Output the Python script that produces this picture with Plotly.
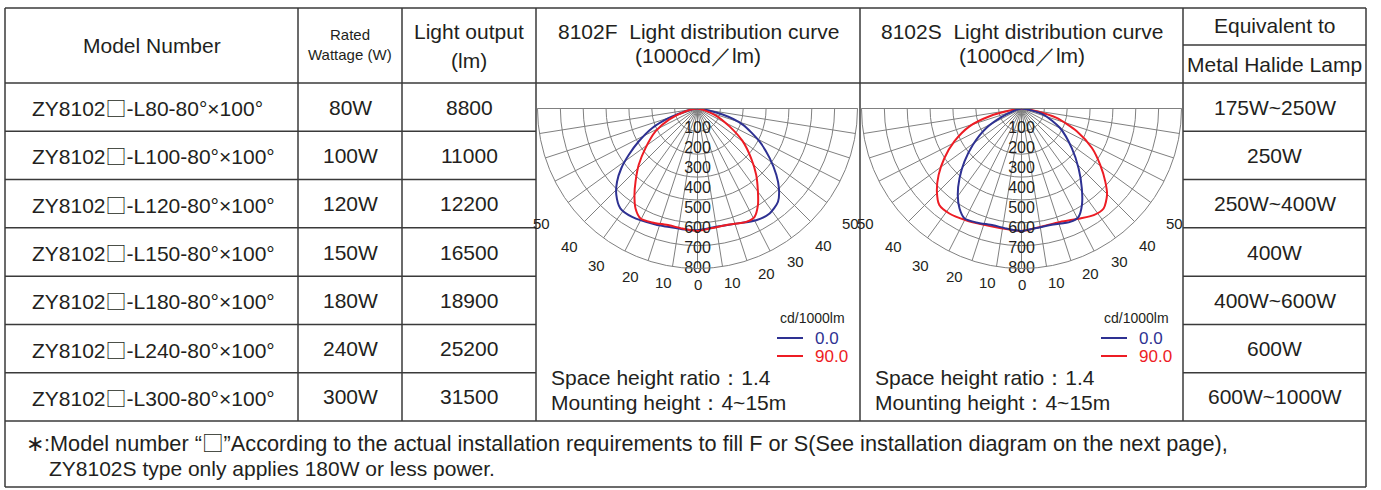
import math
import plotly.graph_objects as go

# ---------------- table data ----------------
models = ["ZY8102□-L80-80°×100°", "ZY8102□-L100-80°×100°", "ZY8102□-L120-80°×100°",
          "ZY8102□-L150-80°×100°", "ZY8102□-L180-80°×100°", "ZY8102□-L240-80°×100°",
          "ZY8102□-L300-80°×100°"]
wattages = ["80W", "100W", "120W", "150W", "180W", "240W", "300W"]
lumens = ["8800", "11000", "12200", "16500", "18900", "25200", "31500"]
equivalents = ["175W~250W", "250W", "250W~400W", "400W", "400W~600W", "600W", "600W~1000W"]

# ---------------- light distribution data (cd/1000lm) ----------------
F_blue_theta = [-81, -77, -71.8, -66.7, -60.8, -56, -51.9, -47.7, -43.2, -37.7, -31.1, -19.9, -15.1,
                -10.3, -6.3, 0, 8.9, 18.5, 27.7, 34.5, 40.8, 45.6, 49.9, 55.5, 62, 70.4, 76.5, 81]
F_blue_r = [0, 60, 150, 246, 336, 414, 484, 544, 593, 631, 633, 617, 611,
            607, 609, 609, 599, 607, 631, 637, 616, 570, 515, 438, 351, 240, 129, 0]
F_red_theta = [-80, -77, -68.8, -61.5, -52.7, -46.2, -40.3, -36.1, -31.8, -27.4, -21.7, -13.7, -7.2,
               0, 7.2, 15.4, 23.2, 27.8, 32, 36, 41.5, 47.2, 54, 60.8, 70.2, 78]
F_red_r = [0, 60, 153, 238, 327, 407, 479, 535, 588, 619, 613, 601, 605,
           612, 602, 602, 617, 612, 570, 514, 443, 365, 280, 183, 89, 0]
S_red_theta = [-82, -80, -76.4, -71.1, -63.9, -57.2, -51.3, -45.5, -40.4, -34.5, -26.4, -18.4, -10.3,
               0, 8.9, 18.8, 28.1, 34.1, 39.4, 44.7, 48.9, 54.4, 60.7, 67.6, 75, 80, 83]
S_red_r = [0, 60, 164, 275, 374, 459, 531, 593, 634, 637, 624, 612, 607,
           612, 599, 599, 623, 644, 647, 608, 556, 484, 404, 299, 182, 77, 0]
S_blue_theta = [-75, -72, -67.3, -61, -53.3, -47.1, -41.6, -36.4, -31.8, -27.4, -21.7, -13.7, -7.2,
                0, 7.2, 15.4, 23.2, 27.8, 32, 37.1, 43.7, 51.8, 63.2, 74.5, 79]
S_blue_r = [0, 44, 100, 201, 303, 389, 467, 537, 588, 619, 613, 601, 605,
            612, 602, 602, 617, 612, 570, 500, 413, 320, 216, 113, 0]

radial_labels = ["100", "200", "300", "400", "500", "600", "700", "800"]
radial_label_r = [100, 200, 300, 400, 500, 600, 700, 800]
angle_labels = ["50", "40", "30", "20", "10", "0", "10", "20", "30", "40", "50"]
angle_label_theta = [-53.6, -43, -32.7, -21.7, -10.9, 0, 11.5, 22.6, 32.6, 42.6, 53]
angle_label_r = [971, 941, 931, 906, 886, 881, 886, 896, 911, 930, 956]

BLUE = "#2e3192"
RED = "#ed1c24"
GRID = "#808080"
BORDER = "#3a3a3a"
TXT = "#231f20"
FONT = "Liberation Sans, Arial, sans-serif"
W, H = 1381, 490
RMAX = 800
R_PX = 160
CY = 108.5

# table geometry (pixels)
cols = [5, 298, 402, 536, 860, 1183, 1366]
top, head_bot, foot_top, bottom = 8, 83, 421, 487
row_lines = [head_bot + (foot_top - head_bot) * k / 7 for k in range(8)]
row_centers = [(row_lines[k] + row_lines[k + 1]) / 2 for k in range(7)]

fig = go.Figure()


def txt(x, y, s, size=21, anchor="center", color=TXT):
    fig.add_annotation(x=x, y=y, xref="x", yref="y", text=s, showarrow=False,
                       xanchor=anchor, yanchor="middle",
                       font=dict(family=FONT, size=size, color=color))


# ---------- polar charts ----------
def add_polar(name, series, cx):
    dom_x = [(cx - R_PX) / W, (cx + R_PX) / W]
    dom_y = [1 - (CY + R_PX) / H, 1 - CY / H]
    for th, rr, col in series:
        fig.add_trace(go.Scatterpolar(theta=th, r=rr, mode="lines", subplot=name,
                                      line=dict(color=col, width=2, shape="spline", smoothing=0.7),
                                      hoverinfo="skip"))
    fig.add_trace(go.Scatterpolar(theta=[0] * len(radial_label_r), r=radial_label_r, text=radial_labels,
                                  mode="text", subplot=name, cliponaxis=False,
                                  textfont=dict(family=FONT, size=16, color=TXT), hoverinfo="skip"))
    fig.update_layout({name: dict(
        domain=dict(x=dom_x, y=dom_y),
        sector=[180, 360],
        bgcolor="rgba(0,0,0,0)",
        radialaxis=dict(range=[0, RMAX], tickvals=[RMAX / 7 * k for k in range(1, 7)],
                        showticklabels=False, ticks="", showline=False,
                        gridcolor=GRID, gridwidth=1),
        angularaxis=dict(rotation=270, direction="counterclockwise", thetaunit="degrees",
                         tickmode="linear", tick0=0, dtick=9,
                         showticklabels=False, ticks="", showline=True, linecolor=GRID,
                         linewidth=1, showgrid=True, gridcolor=GRID, gridwidth=1),
    )})
    # angle labels placed outside the plotting circle
    for lab, th, rr in zip(angle_labels, angle_label_theta, angle_label_r):
        px = cx + R_PX * rr / RMAX * math.sin(math.radians(th))
        py = CY + R_PX * rr / RMAX * math.cos(math.radians(th))
        txt(px, py, lab, 15)


add_polar("polar", [(F_blue_theta, F_blue_r, BLUE), (F_red_theta, F_red_r, RED)], 697.5)
add_polar("polar2", [(S_red_theta, S_red_r, RED), (S_blue_theta, S_blue_r, BLUE)], 1021.5)


# ---------- table lines ----------
def line(x0, y0, x1, y1, w=1.5):
    fig.add_shape(type="line", x0=x0, y0=y0, x1=x1, y1=y1, xref="x", yref="y",
                  line=dict(color=BORDER, width=w), layer="above")


line(cols[0], top, cols[-1], top)
line(cols[0], bottom, cols[-1], bottom)
line(cols[0], top, cols[0], bottom)
line(cols[-1], top, cols[-1], bottom)
line(cols[0], head_bot, cols[-1], head_bot)
line(cols[0], foot_top, cols[-1], foot_top)
for c in cols[1:-1]:
    line(c, top, c, foot_top)
line(cols[5], 45, cols[6], 45)
for y in row_lines[1:-1]:
    line(cols[0], y, cols[3], y)
    line(cols[5], y, cols[6], y)

# ---------- text ----------
SQ = '<span style="font-family:Noto Sans CJK SC">□</span>'

txt(151.5, 45, "Model Number")
txt(350, 34, "Rated", 15)
txt(350, 54, "Wattage (W)", 15)
txt(469, 31, "Light output")
txt(469, 60, "(lm)")
for cx, lab in [(698, "8102F"), (1022, "8102S")]:
    txt(cx, 31, lab + "  Light distribution curve")
    txt(cx, 55, "(1000cd／lm)")
txt(1274.5, 25, "Equivalent to")
txt(1274.5, 64, "Metal Halide Lamp")

for k in range(7):
    y = row_centers[k]
    txt(30, y, models[k].replace("□", SQ), anchor="left")
    txt(350, y, wattages[k])
    txt(469, y, lumens[k])
    txt(1274.5, y, equivalents[k])

for off in [0, 324]:
    txt(847 + off, 318, "cd/1000lm", 14, anchor="right")
    fig.add_shape(type="line", x0=777 + off, x1=803 + off, y0=338, y1=338, xref="x", yref="y",
                  line=dict(color=BLUE, width=2))
    fig.add_shape(type="line", x0=777 + off, x1=803 + off, y0=356, y1=356, xref="x", yref="y",
                  line=dict(color=RED, width=2))
    txt(813 + off, 338, "0.0", 17, anchor="left", color=BLUE)
    txt(813 + off, 356, "90.0", 17, anchor="left", color=RED)
    txt(549 + off, 377, "Space height ratio：1.4", 21, anchor="left")
    txt(549 + off, 402, "Mounting height：4~15m", 21, anchor="left")

txt(24, 441, "∗:Model number “" + SQ + "”According to the actual installation requirements to fill F or S"
    "(See installation diagram on the next page),", 21.7, anchor="left")
txt(47, 468, "ZY8102S type only applies 180W or less power.", 21, anchor="left")

fig.update_layout(
    width=W, height=H, margin=dict(l=0, r=0, t=0, b=0),
    paper_bgcolor="white", plot_bgcolor="white", showlegend=False,
    xaxis=dict(range=[0, W], visible=False, fixedrange=True, domain=[0, 1]),
    yaxis=dict(range=[H, 0], visible=False, fixedrange=True, domain=[0, 1]),
)

fig.write_html("out.html", config={"displayModeBar": False, "staticPlot": True},
               post_script="document.body.style.margin='0';")
